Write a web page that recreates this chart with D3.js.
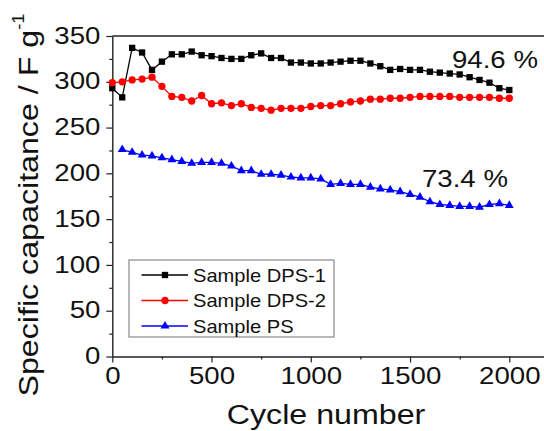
<!DOCTYPE html>
<html>
<head>
<meta charset="utf-8">
<script src="https://cdn.jsdelivr.net/npm/d3@7"></script>
<style>
  body { margin: 0; background: #fff; }
  text { font-family: "Liberation Sans", Arial, sans-serif; fill: #111; }
</style>
</head>
<body>
<svg id="chart" width="544" height="431"></svg>
<script>
const cycles = [0, 50, 100, 150, 200, 250, 300, 350, 400, 450, 500, 550, 600, 650, 700, 750, 800, 850, 900, 950,
  1000, 1050, 1100, 1150, 1200, 1250, 1300, 1350, 1400, 1450, 1500, 1550, 1600, 1650, 1700, 1750, 1800, 1850, 1900, 1950, 2000];

const dps1 = [293, 283, 337, 332, 313, 322, 330, 330, 333, 329, 328, 326, 325, 325, 329, 331, 326, 326, 321, 321,
  320, 320, 321, 322, 323, 323, 320, 317, 313, 314, 313, 313, 311, 310, 309, 308, 305, 302, 299, 293, 291];

const dps2 = [299, 300, 302, 303, 305, 295, 284, 283, 279, 285, 276, 277, 274, 276, 272, 271, 269, 271, 271, 271,
  273, 274, 274, 276, 278, 279, 281, 281, 282, 282, 283, 284, 284, 284, 284, 283, 283, 283, 283, 282, 282];

// PS has no point at cycle 0
const psCycles = cycles.slice(1);
const ps = [226, 223, 220, 219, 217, 215, 213, 211, 212, 212, 211, 208, 203, 203, 199, 199, 198, 196, 195, 195,
  194, 188, 189, 188, 188, 185, 183, 182, 180, 177, 174, 169, 166, 165, 164, 164, 163, 166, 167, 165];

const xMajor = [0, 500, 1000, 1500, 2000];
const xMinor = [250, 750, 1250, 1750];
const yMajor = [0, 50, 100, 150, 200, 250, 300, 350];
const yMinor = [25, 75, 125, 175, 225, 275, 325];

const seriesNames = ["Sample DPS-1", "Sample DPS-2", "Sample PS"];
const seriesColors = ["#000000", "#ff0000", "#0000ff"];
const seriesSymbols = [d3.symbolSquare, d3.symbolCircle, d3.symbolTriangle];
const retention = [{ label: "94.6 %", x: 452, y: 68 }, { label: "73.4 %", x: 422, y: 187 }];

const svg = d3.select("#chart");
const stretch = "scale(1.15,1)";

const plotLeft = 112.3, plotRight = 544, plotTop = 36, plotBottom = 356.5;

const x = d3.scaleLinear()
  .domain([0, 2000])
  .range([plotLeft, 509.3]);

const xAxisScale = x.copy().domain([0, x.invert(plotRight)]).range([plotLeft, plotRight]);

const y = d3.scaleLinear()
  .domain([0, 350])
  .range([plotBottom, plotTop]);

// top frame line
svg.append("line")
  .attr("x1", plotLeft).attr("x2", plotRight)
  .attr("y1", plotTop).attr("y2", plotTop)
  .attr("stroke", "#222").attr("stroke-width", 1.4);

const xg = svg.append("g")
  .attr("transform", `translate(0,${plotBottom})`)
  .call(d3.axisBottom(xAxisScale).tickValues(xMajor).tickSize(6).tickSizeOuter(0).tickPadding(4).tickFormat(d3.format("d")));

svg.append("g")
  .attr("transform", `translate(0,${plotBottom})`)
  .call(d3.axisBottom(xAxisScale).tickValues(xMinor).tickSize(3).tickSizeOuter(0).tickFormat(""))
  .select(".domain").remove();

const yg = svg.append("g")
  .attr("transform", `translate(${plotLeft},0)`)
  .call(d3.axisLeft(y).tickValues(yMajor).tickSize(6).tickSizeOuter(0).tickPadding(4.4));

svg.append("g")
  .attr("transform", `translate(${plotLeft},0)`)
  .call(d3.axisLeft(y).tickValues(yMinor).tickSize(3).tickSizeOuter(0).tickFormat(""))
  .select(".domain").remove();

svg.selectAll(".domain").attr("stroke", "#222").attr("stroke-width", 1.4);
svg.selectAll(".tick line").attr("stroke", "#222").attr("stroke-width", 1.2);

xg.selectAll("text")
  .attr("font-size", 24)
  .attr("font-family", "Liberation Sans, Arial, sans-serif")
  .attr("fill", "#111")
  .attr("transform", stretch);

yg.selectAll("text")
  .attr("font-size", 24)
  .attr("font-family", "Liberation Sans, Arial, sans-serif")
  .attr("fill", "#111")
  .attr("dy", "0.3em")
  .attr("transform", stretch);

// axis titles
svg.append("text")
  .attr("transform", `translate(326,424) ${stretch}`)
  .attr("text-anchor", "middle")
  .attr("font-size", 28)
  .text("Cycle number");

const yTitle = svg.append("text")
  .attr("transform", `translate(38,205) rotate(-90) ${stretch}`)
  .attr("text-anchor", "middle")
  .attr("font-size", 28)
  .text("Specific capacitance / F g");
yTitle.append("tspan")
  .attr("font-size", 16)
  .attr("dy", "-0.9em")
  .text("-1");

// series
const series = [
  { xs: cycles, ys: dps1 },
  { xs: cycles, ys: dps2 },
  { xs: psCycles, ys: ps }
];
const symbolSizes = [40, 42, 34];

const line = d3.line()
  .x((d) => x(d[0]))
  .y((d) => y(d[1]));

series.forEach((s, i) => {
  const pts = s.xs.map((c, j) => [c, s.ys[j]]);
  const g = svg.append("g");
  g.append("path")
    .datum(pts)
    .attr("fill", "none")
    .attr("stroke", seriesColors[i])
    .attr("stroke-width", 1.3)
    .attr("d", line);
  g.selectAll("path.pt")
    .data(pts)
    .join("path")
    .attr("class", "pt")
    .attr("transform", (d) => `translate(${x(d[0])},${y(d[1])})`)
    .attr("fill", seriesColors[i])
    .attr("d", d3.symbol(seriesSymbols[i], symbolSizes[i]));
});

// retention labels
svg.selectAll("text.ret")
  .data(retention)
  .join("text")
  .attr("class", "ret")
  .attr("transform", (d) => `translate(${d.x},${d.y}) ${stretch}`)
  .attr("font-size", 24)
  .text((d) => d.label);

// legend
const legend = svg.append("g").attr("transform", "translate(129,260)");
legend.append("rect")
  .attr("width", 205).attr("height", 77)
  .attr("fill", "#fff")
  .attr("stroke", "#8a8a8a").attr("stroke-width", 1.2);

const rows = legend.selectAll("g.row")
  .data(seriesNames)
  .join("g")
  .attr("class", "row")
  .attr("transform", (d, i) => `translate(0,${15 + i * 25.5})`);

rows.append("line")
  .attr("x1", 12.5).attr("x2", 59)
  .attr("stroke", (d, i) => seriesColors[i])
  .attr("stroke-width", 1.3);

rows.append("path")
  .attr("transform", "translate(36,0)")
  .attr("fill", (d, i) => seriesColors[i])
  .attr("d", (d, i) => d3.symbol(seriesSymbols[i], symbolSizes[i])());

rows.append("text")
  .attr("transform", `translate(64,6.5) ${stretch}`)
  .attr("font-size", 17.5)
  .text((d) => d);
</script>
</body>
</html>
